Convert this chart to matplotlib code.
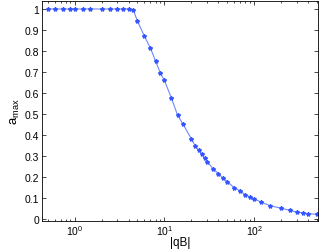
import matplotlib
matplotlib.use('Agg')
import matplotlib.pyplot as plt
import numpy as np

plt.rcParams['font.family'] = ['Liberation Sans', 'DejaVu Sans']
plt.rcParams['mathtext.default'] = 'regular'

# |qB| values and a_max
qB = [0.5, 0.6, 0.75, 0.9, 1, 1.25, 1.5, 2, 2.5, 3, 3.5, 4, 4.5,
      5, 6, 7, 8, 9, 10, 12, 14, 16, 20, 22, 24, 26, 28, 30, 35, 40,
      45, 50, 60, 70, 80, 90, 100, 120, 150, 200, 250, 300, 350, 400, 500]
a_max = [1, 1, 1, 1, 1, 1, 1, 1, 1, 1, 1, 1, 0.997,
         0.943, 0.870, 0.813, 0.751, 0.695, 0.660, 0.575, 0.495, 0.454,
         0.381, 0.349, 0.327, 0.308, 0.289, 0.273, 0.238, 0.216,
         0.194, 0.178, 0.149, 0.133, 0.114, 0.105, 0.095, 0.080, 0.063,
         0.051, 0.041, 0.032, 0.029, 0.025, 0.022]

fig = plt.figure(figsize=(3.23, 2.51), dpi=100)
ax = fig.add_axes([0.129, 0.117, 0.857, 0.875])

ax.semilogx(qB, a_max, '-', color='#7088ff', lw=0.8,
            marker='*', ms=3, mfc='#3556ff', mec='#3556ff')

ax.set_xlim(0.43, 520)
ax.set_ylim(-0.008, 1.038)
ax.set_yticks(np.arange(0, 1.01, 0.1))
ax.set_yticklabels(['0', '0.1', '0.2', '0.3', '0.4', '0.5', '0.6', '0.7', '0.8', '0.9', '1'])

ax.tick_params(which='both', direction='in', top=True, right=True, labelsize=7.5, width=0.5, pad=2)
ax.tick_params(which='major', length=3)
ax.tick_params(which='minor', length=1.5)
for s in ax.spines.values():
    s.set_linewidth(0.6)

ax.set_xlabel('|qB|', fontsize=8.5, labelpad=-1)
ax.set_ylabel(r'a$_{max}$', fontsize=9.5, labelpad=2)

fig.savefig('out.png', dpi=100)
